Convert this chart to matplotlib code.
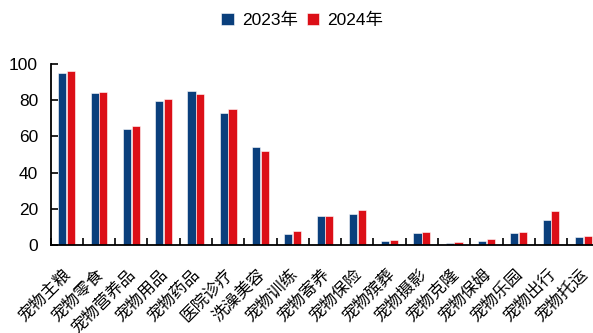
import matplotlib
matplotlib.use("Agg")
import matplotlib.pyplot as plt
import matplotlib.transforms as mtransforms
import numpy as np

categories = ["宠物主粮", "宠物零食", "宠物营养品", "宠物用品", "宠物药品", "医院诊疗", "洗澡美容",
              "宠物训练", "宠物寄养", "宠物保险", "宠物殡葬", "宠物摄影", "宠物克隆", "宠物保姆",
              "宠物乐园", "宠物出行", "宠物托运"]
v2023 = [95.2, 84.1, 64.1, 79.7, 85.1, 73.1, 54.1, 6.3, 15.8, 17.0, 2.4, 6.6, 1.3, 2.4, 6.6, 13.8, 4.2]
v2024 = [96.1, 84.5, 65.9, 80.5, 83.4, 75.1, 51.9, 7.7, 16.2, 19.2, 2.8, 7.2, 1.7, 3.1, 7.2, 18.8, 5.0]
series_names = ["2023年", "2024年"]
yticks = [0, 20, 40, 60, 80, 100]

blue = "#0a3f7c"
red = "#dc0f17"
cjk = ["Noto Sans CJK SC", "DejaVu Sans"]
latin_cjk = ["Liberation Sans", "Noto Sans CJK SC"]

W, H = 593, 333
fig = plt.figure(figsize=(W / 100, H / 100), dpi=100)
x0, x1 = 50.5, 599.5
y0, y1 = 245, 64
ax = fig.add_axes([x0 / W, (H - y0) / H, (x1 - x0) / W, (y0 - y1) / H])

x = np.arange(len(categories))
bw = 0.25
off = 0.135
ax.bar(x - off, v2023, bw, color=blue, edgecolor="white", linewidth=0.4, label=series_names[0])
ax.bar(x + off, v2024, bw, color=red, edgecolor="white", linewidth=0.4, label=series_names[1])

ax.set_xlim(-0.5, len(categories) - 0.5)
ax.set_ylim(0, 100)
ax.set_yticks(yticks)
ax.set_yticklabels([str(t) for t in yticks], fontfamily="Liberation Sans", fontsize=12.5)
ax.tick_params(axis="y", direction="in", length=5, width=1.2, pad=9)

ax.set_xticks(np.arange(len(categories) + 1) - 0.5)
ax.set_xticklabels([])
ax.tick_params(axis="x", which="major", direction="in", length=5, width=1.2)
ax.set_xticks(x, minor=True)
ax.set_xticklabels(categories, minor=True, rotation=45, ha="right", va="top",
                   rotation_mode="anchor", fontfamily=cjk, fontsize=12, fontweight="medium")
ax.tick_params(axis="x", which="minor", length=0, pad=15)
shift = mtransforms.ScaledTranslation(-4 / 100, 0, fig.dpi_scale_trans)
for lab in ax.get_xticklabels(minor=True):
    lab.set_transform(lab.get_transform() + shift)

for s in ["top", "right"]:
    ax.spines[s].set_visible(False)
for s in ["left", "bottom"]:
    ax.spines[s].set_linewidth(1.3)
    ax.spines[s].set_color("black")

leg = fig.legend(loc="center", bbox_to_anchor=(0.51, (H - 20) / H), ncol=2, frameon=False,
                 prop={"family": latin_cjk, "size": 12.5}, handlelength=0.7, handleheight=0.7,
                 handletextpad=0.5, columnspacing=0.5)

fig.savefig("out.png", dpi=100)
